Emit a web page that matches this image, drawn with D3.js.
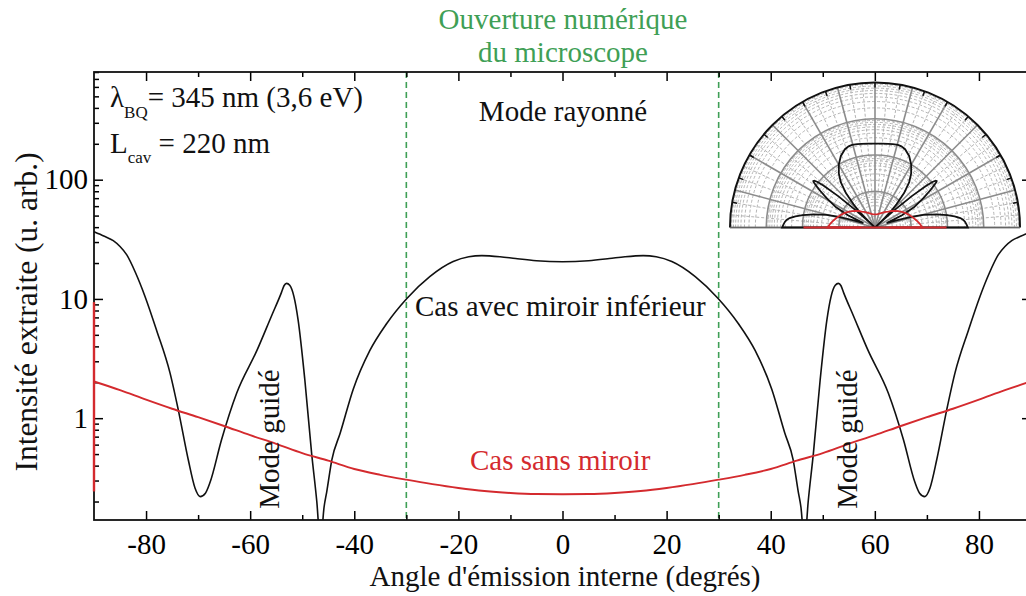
<!DOCTYPE html>
<html lang="fr">

<head>
    <meta charset="UTF-8">
    <title>Intensité extraite</title>
    <script src="https://d3js.org/d3.v7.min.js"></script>
    <style>
        body { margin: 0; background: #fff; }
        text { font-family: "Liberation Serif", "Times New Roman", serif; }
    </style>
</head>

<body>
    <svg id="chart" width="1026" height="596"></svg>

    <script>
        // cas avec miroir inférieur : [angle (degrés), intensité]
        const avecMiroir = [
            [-90, 36.6], [-88, 33.5], [-86.3, 30.8], [-85, 27.5], [-83.7, 23.4], [-82, 16.5],
            [-80.2, 10.5], [-78, 5.5], [-75.4, 2.4], [-73.8, 1.17], [-71.9, 0.45], [-70.6, 0.26],
            [-69.6, 0.22], [-68.6, 0.235], [-67.7, 0.29], [-65.5, 0.66], [-62.6, 1.62], [-58.7, 3.7],
            [-55.9, 7.2], [-54, 11.3], [-53.5, 12.9], [-53, 13.5], [-52.4, 13.0], [-51.6, 10.5],
            [-50.8, 6.7], [-49.5, 2.1], [-48.2, 0.51], [-47.2, 0.2], [-46.5, 0.09], [-45.8, 0.18],
            [-45.3, 0.24], [-44.3, 0.45], [-42.7, 0.75], [-40.2, 1.75], [-37, 3.7], [-33.8, 6.2],
            [-29.9, 10.1], [-25.5, 15.4], [-21, 20.6], [-18, 22.6], [-15.5, 23.1], [-12, 22.6],
            [-9, 21.8], [-5, 20.9], [0, 20.5],
            [5, 20.9], [9, 21.8], [12, 22.6], [15.5, 23.1], [18, 22.6], [21, 20.6],
            [25.5, 15.4], [29.9, 10.1], [33.8, 6.2], [37, 3.7], [40.2, 1.75], [42.7, 0.75],
            [44.3, 0.45], [45.3, 0.24], [45.8, 0.18], [46.5, 0.09], [47.2, 0.2], [48.2, 0.51],
            [49.5, 2.1], [50.8, 6.7], [51.6, 10.5], [52.4, 13.0], [53, 13.5], [53.5, 12.9],
            [54, 11.3], [55.9, 7.2], [58.7, 3.7], [62.6, 1.62], [65.5, 0.66], [67.7, 0.29],
            [68.6, 0.235], [69.6, 0.22], [70.6, 0.26], [71.9, 0.45], [73.8, 1.17], [75.4, 2.4],
            [78, 5.5], [80.2, 10.5], [82, 16.5], [83.7, 23.4], [85, 27.5], [86.3, 30.8],
            [88, 33.5], [90, 36.6]
        ];

        // cas sans miroir
        const sansMiroir = [
            [-90, 2.03], [-85, 1.72], [-80, 1.43], [-75, 1.2], [-70, 1.02], [-65, 0.86],
            [-60, 0.72], [-55, 0.61], [-50, 0.51], [-45, 0.44], [-40, 0.375], [-35, 0.335],
            [-30, 0.305], [-25, 0.28], [-20, 0.26], [-15, 0.245], [-10, 0.236], [-5, 0.231],
            [0, 0.23], [5, 0.231], [10, 0.236], [15, 0.245], [20, 0.26], [25, 0.28],
            [30, 0.305], [35, 0.335], [40, 0.375], [45, 0.44], [50, 0.51], [55, 0.61],
            [60, 0.72], [65, 0.86], [70, 1.02], [75, 1.2], [80, 1.43], [85, 1.72], [90, 2.03]
        ];
        // segments verticaux aux bords (angle, min, max)
        const sansMiroirBords = [[-90, 0.243, 9.4], [90, 0.243, 9.4]];

        const xTicks = [-80, -60, -40, -20, 0, 20, 40, 60, 80];
        const xMinor = [-70, -50, -30, -10, 10, 30, 50, 70];
        const yTicks = [1, 10, 100];
        const yMinor = [0.2, 0.3, 0.4, 0.5, 0.6, 0.7, 0.8, 0.9, 2, 3, 4, 5, 6, 7, 8, 9,
            20, 30, 40, 50, 60, 70, 80, 90, 200, 300, 400, 500, 600, 700, 800];
        const ouverture = [-30, 30];

        const svg = d3.select('#chart');
        const plotLeft = 94, plotRight = 1031, plotTop = 72, plotBottom = 520;
        const green = '#3f9f56', red = '#d42a2e';
        const font = '"Liberation Serif", "Times New Roman", serif';
        const fs = 29;

        const xScale = d3.scaleLinear().domain([-90, 90]).range([plotLeft, plotRight]);
        const yScale = d3.scaleLog().domain([0.14, 800]).range([plotBottom, plotTop]);

        svg.append('defs').append('clipPath').attr('id', 'plotclip')
            .append('rect').attr('x', plotLeft - 2).attr('y', plotTop)
            .attr('width', plotRight - plotLeft + 4).attr('height', plotBottom - plotTop);

        // dashed lines: numerical aperture
        svg.selectAll('.na').data(ouverture).enter().append('line')
            .attr('x1', d => xScale(d)).attr('x2', d => xScale(d))
            .attr('y1', plotTop).attr('y2', plotBottom)
            .attr('stroke', green).attr('stroke-width', 1.6)
            .attr('stroke-dasharray', '6,4');

        // axes, ticks pointing inward
        const styleAxis = g => {
            g.select('.domain').remove();
            g.attr('font-family', font).attr('font-size', fs);
            g.selectAll('line').attr('stroke-width', 1.5);
        };

        svg.append('g').attr('transform', `translate(0,${plotBottom})`)
            .call(d3.axisBottom(xScale).tickValues(xTicks).tickSize(-9).tickPadding(13).tickFormat(d => String(d)))
            .call(styleAxis);
        svg.append('g').attr('transform', `translate(0,${plotBottom})`)
            .call(d3.axisBottom(xScale).tickValues(xMinor).tickSize(-5).tickFormat(''))
            .call(styleAxis);
        svg.append('g').attr('transform', `translate(0,${plotTop})`)
            .call(d3.axisTop(xScale).tickValues(xTicks).tickSize(-9).tickFormat(''))
            .call(styleAxis);
        svg.append('g').attr('transform', `translate(0,${plotTop})`)
            .call(d3.axisTop(xScale).tickValues(xMinor).tickSize(-5).tickFormat(''))
            .call(styleAxis);

        svg.append('g').attr('transform', `translate(${plotLeft},0)`)
            .call(d3.axisLeft(yScale).tickValues(yTicks).tickSize(-9).tickPadding(6).tickFormat(d3.format('d')))
            .call(styleAxis);
        svg.append('g').attr('transform', `translate(${plotLeft},0)`)
            .call(d3.axisLeft(yScale).tickValues(yMinor).tickSize(-5).tickFormat(''))
            .call(styleAxis);
        svg.append('g').attr('transform', `translate(${plotRight},0)`)
            .call(d3.axisRight(yScale).tickValues(yTicks).tickSize(-9).tickFormat(''))
            .call(styleAxis);
        svg.append('g').attr('transform', `translate(${plotRight},0)`)
            .call(d3.axisRight(yScale).tickValues(yMinor).tickSize(-5).tickFormat(''))
            .call(styleAxis);

        svg.append('rect')
            .attr('x', plotLeft).attr('y', plotTop)
            .attr('width', plotRight - plotLeft).attr('height', plotBottom - plotTop)
            .attr('fill', 'none').attr('stroke', '#111').attr('stroke-width', 1.8);

        // curves (drawn over the frame, like the original)
        const plot = svg.append('g').attr('clip-path', 'url(#plotclip)');

        const line = d3.line()
            .x(d => xScale(d[0]))
            .y(d => yScale(d[1]))
            .curve(d3.curveMonotoneX);

        plot.append('path')
            .attr('d', line(avecMiroir))
            .attr('fill', 'none').attr('stroke', '#111').attr('stroke-width', 1.6);

        plot.append('path')
            .attr('d', line(sansMiroir))
            .attr('fill', 'none').attr('stroke', red).attr('stroke-width', 1.9);

        plot.selectAll('.bord').data(sansMiroirBords).enter().append('line')
            .attr('x1', d => xScale(d[0])).attr('x2', d => xScale(d[0]))
            .attr('y1', d => yScale(d[1])).attr('y2', d => yScale(d[2]))
            .attr('stroke', red).attr('stroke-width', 2.4);

        // polar inset
        const cx = 875, cy = 227.5, R = 145;
        const rScale = d3.scaleLog().domain([0.1, 1000]).range([0, R]).clamp(true);
        const inset = svg.append('g').attr('transform', `translate(${cx},${cy})`);
        const semi = rad => `M${-rad},0 A${rad},${rad} 0 0 1 ${rad},0`;
        const toRad = a => a * Math.PI / 180;
        const px = (a, v) => v * Math.sin(toRad(a));
        const py = (a, v) => -v * Math.cos(toRad(a));

        inset.append('path').attr('d', semi(R) + 'Z').attr('fill', '#fff');

        const minorR = [];
        [0.1, 1, 10, 100].forEach(dec => {
            for (let k = 2; k <= 9; k++) minorR.push(k * dec);
        });
        inset.selectAll('.mc').data(minorR).enter().append('path')
            .attr('d', d => semi(rScale(d)))
            .attr('fill', 'none').attr('stroke', '#b5b5b5').attr('stroke-width', 1)
            .attr('stroke-dasharray', '3,2');

        const spokes = d3.range(-90, 91, 5);
        inset.selectAll('.sp').data(spokes.filter(a => a % 15 !== 0)).enter().append('line')
            .attr('x1', a => px(a, rScale(1))).attr('y1', a => py(a, rScale(1)))
            .attr('x2', a => px(a, R)).attr('y2', a => py(a, R))
            .attr('stroke', '#b5b5b5').attr('stroke-width', 1).attr('stroke-dasharray', '3,2');

        inset.selectAll('.dc').data([1, 10, 100]).enter().append('path')
            .attr('d', d => semi(rScale(d)))
            .attr('fill', 'none').attr('stroke', '#8c8c8c').attr('stroke-width', 1.6);

        inset.selectAll('.ms').data(spokes.filter(a => a % 15 === 0)).enter().append('line')
            .attr('x1', 0).attr('y1', 0)
            .attr('x2', a => px(a, R)).attr('y2', a => py(a, R))
            .attr('stroke', '#8c8c8c').attr('stroke-width', 1.6);

        inset.selectAll('.tk').data(d3.range(-80, 81, 10)).enter().append('line')
            .attr('x1', a => px(a, R)).attr('y1', a => py(a, R))
            .attr('x2', a => px(a, R - 5)).attr('y2', a => py(a, R - 5))
            .attr('stroke', '#111').attr('stroke-width', 1.5);

        inset.append('path').attr('d', semi(R))
            .attr('fill', 'none').attr('stroke', '#111').attr('stroke-width', 2);
        inset.append('line').attr('x1', -R).attr('x2', R).attr('y1', 0).attr('y2', 0)
            .attr('stroke', '#666').attr('stroke-width', 1.6);

        const radial = d3.lineRadial()
            .angle(d => toRad(d[0]))
            .radius(d => rScale(d[1]));

        inset.append('path').attr('d', radial(avecMiroir) + 'Z')
            .attr('fill', 'none').attr('stroke', '#111').attr('stroke-width', 1.8);
        inset.append('path').attr('d', radial(sansMiroir) + 'Z')
            .attr('fill', 'none').attr('stroke', red).attr('stroke-width', 1.8);
        inset.selectAll('.pb').data(sansMiroirBords).enter().append('line')
            .attr('x1', d => px(d[0], rScale(d[1]))).attr('y1', d => py(d[0], rScale(d[1])))
            .attr('x2', d => px(d[0], rScale(d[2]))).attr('y2', d => py(d[0], rScale(d[2])))
            .attr('stroke', red).attr('stroke-width', 1.8);

        // texts
        const label = (x, y, txt, opts = {}) => svg.append('text')
            .attr('x', x).attr('y', y)
            .attr('font-size', opts.size || fs)
            .attr('text-anchor', opts.anchor || 'start')
            .attr('fill', opts.color || '#111')
            .text(txt);

        label(563, 29, 'Ouverture numérique', { anchor: 'middle', color: green });
        label(563, 62, 'du microscope', { anchor: 'middle', color: green });
        label(563, 121, 'Mode rayonné', { anchor: 'middle' });
        label(415, 316, 'Cas avec miroir inférieur');
        label(470, 470, 'Cas sans miroir', { color: red });
        label(565, 586, "Angle d'émission interne (degrés)", { anchor: 'middle' });

        const lam = svg.append('text').attr('x', 110).attr('y', 107).attr('font-size', fs).attr('fill', '#111');
        lam.append('tspan').text('λ');
        lam.append('tspan').attr('font-size', 17).attr('dy', 11).text('BQ');
        lam.append('tspan').attr('dy', -11).text('= 345 nm (3,6 eV)');

        const lcav = svg.append('text').attr('x', 110).attr('y', 153).attr('font-size', fs).attr('fill', '#111');
        lcav.append('tspan').text('L');
        lcav.append('tspan').attr('font-size', 17).attr('dy', 10).text('cav');
        lcav.append('tspan').attr('dy', -10).text(' = 220 nm');

        [279, 857].forEach(x => {
            svg.append('text')
                .attr('transform', `translate(${x},439) rotate(-90)`)
                .attr('text-anchor', 'middle').attr('font-size', fs).attr('fill', '#111')
                .text('Mode guidé');
        });

        svg.append('text')
            .attr('transform', 'translate(37,312) rotate(-90)')
            .attr('text-anchor', 'middle').attr('font-size', 31.5).attr('fill', '#111')
            .text('Intensité extraite (u. arb.)');
    </script>
</body>

</html>
